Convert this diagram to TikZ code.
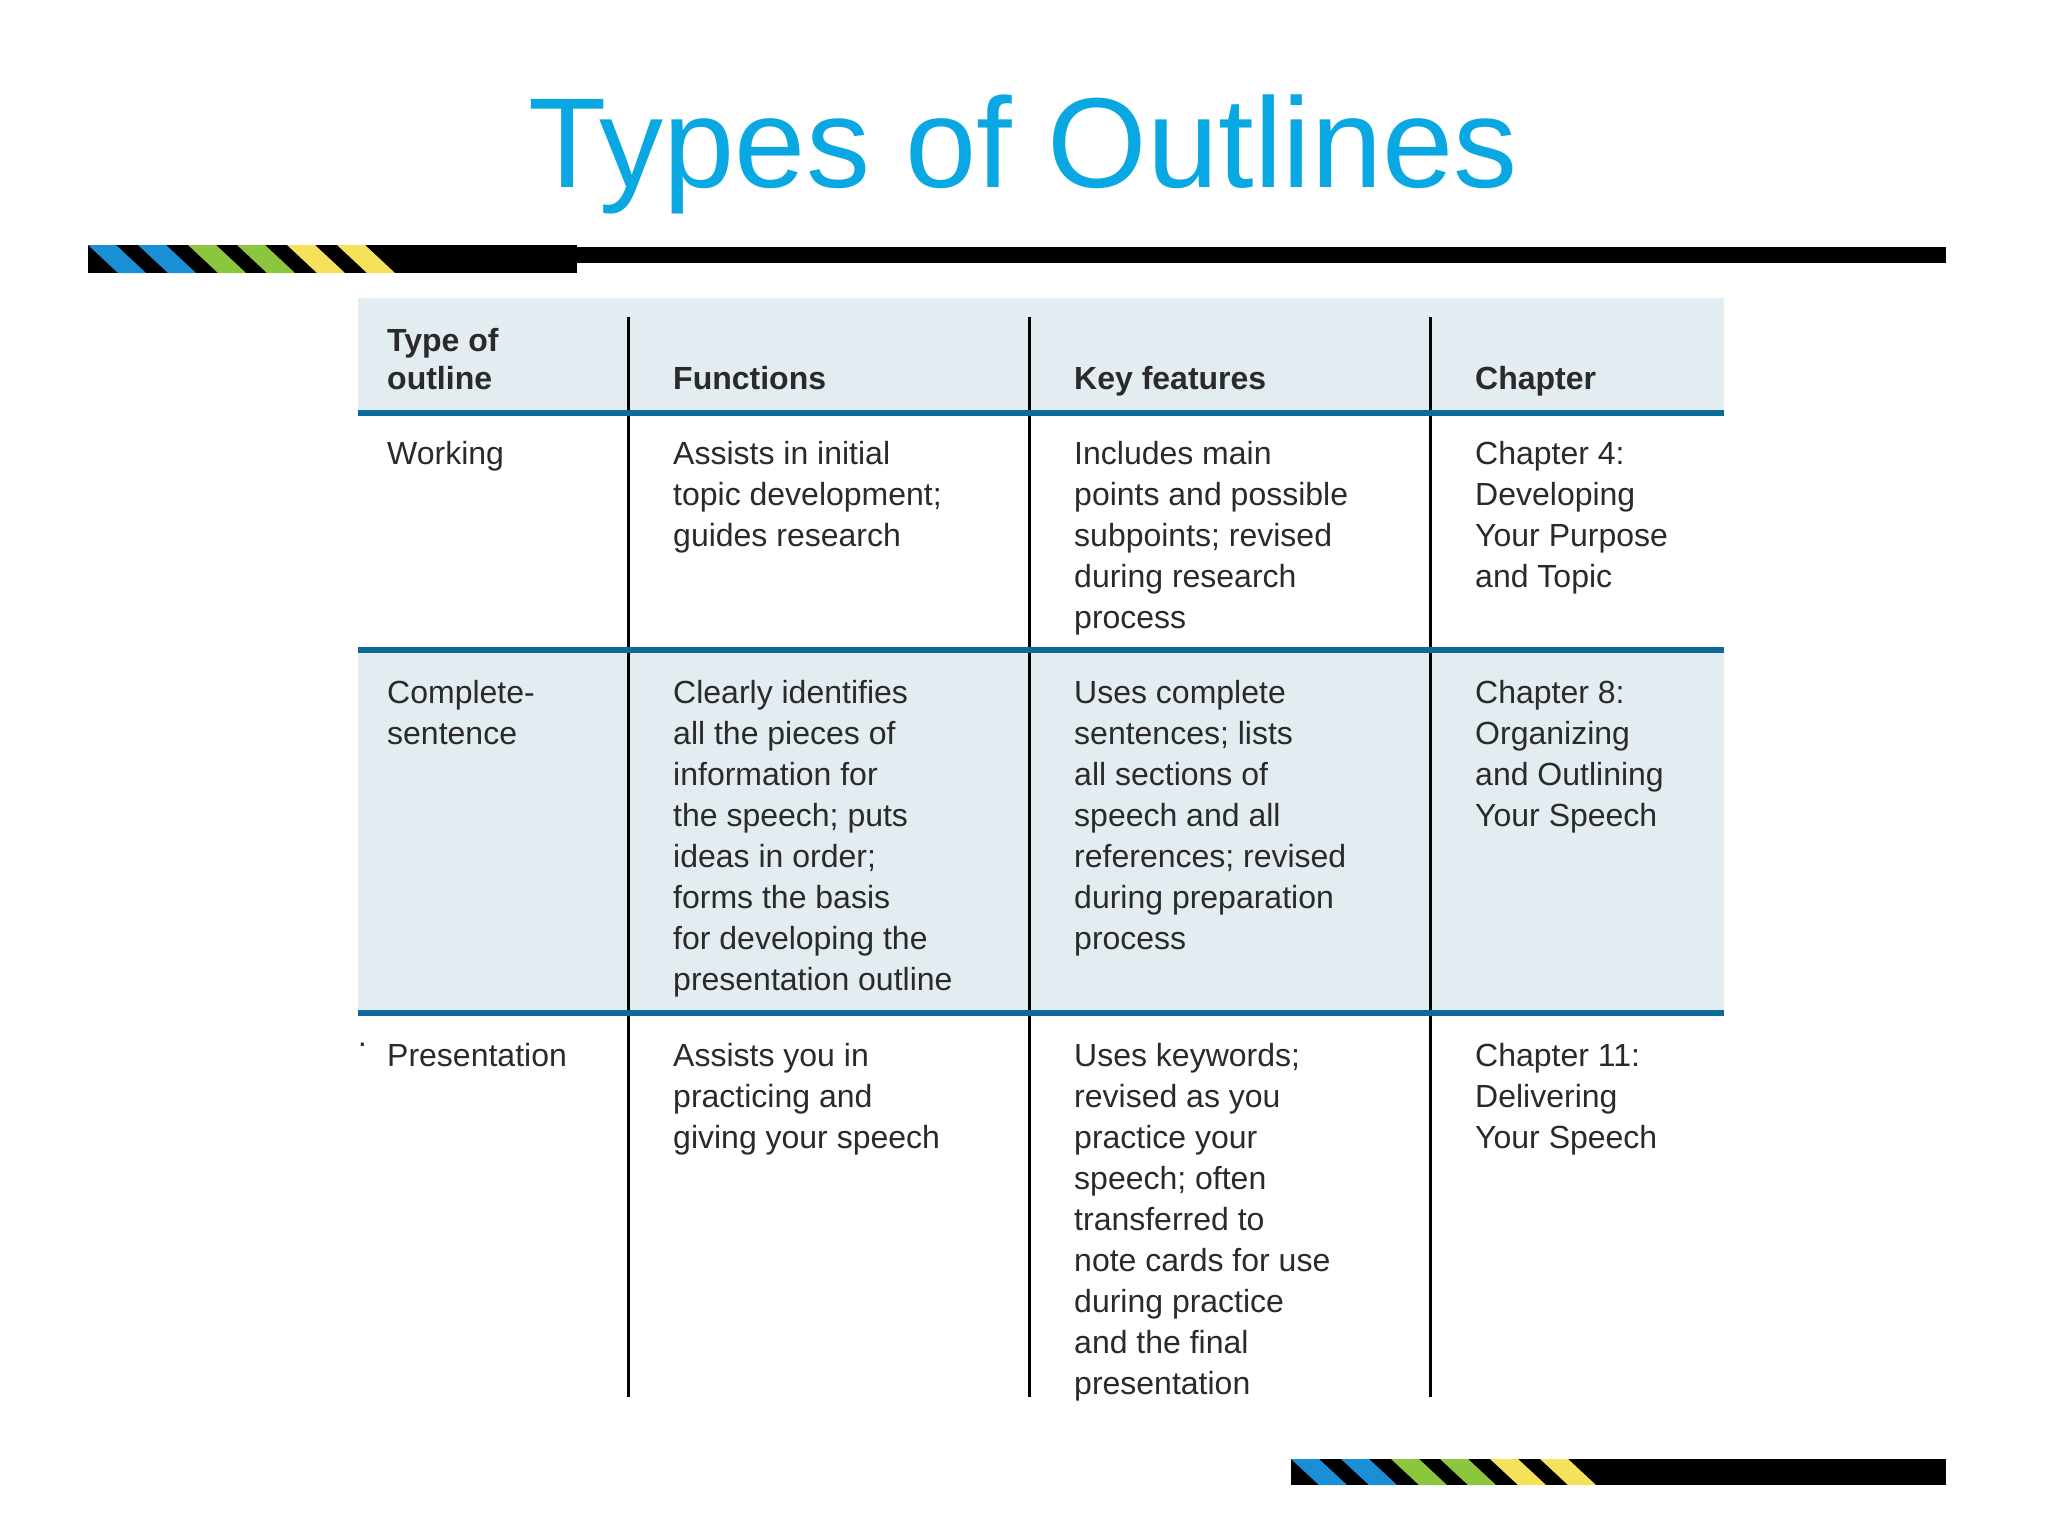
\documentclass[tikz,border=0pt]{standalone}
\usepackage{fontspec}
\setmainfont{Liberation Sans}
\definecolor{titlec}{HTML}{0AA8E2}
\definecolor{rule}{HTML}{0B6A98}
\definecolor{rowbg}{HTML}{E3ECF1}
\definecolor{sblue}{HTML}{1A8FD6}
\definecolor{sgreen}{HTML}{8CC63F}
\definecolor{syellow}{HTML}{F5E15A}
\definecolor{txt}{HTML}{2A2A2A}
\tikzset{cell/.style={anchor=north west,inner sep=0pt,align=left,text=txt,font=\fontsize{32}{41}\selectfont},
 hcell/.style={cell,font=\fontsize{32}{38}\selectfont\bfseries},
 vline/.style={line width=3pt,black},
 hrule/.style={line width=6pt,rule}}
\begin{document}
\begin{tikzpicture}[x=1pt,y=-1pt]
\useasboundingbox (0,0) rectangle (2048,1536);
\node[text=titlec,font=\fontsize{128}{130}\selectfont] (title) at (1023,154) {Types of Outlines};
% top stripe bar
\fill[black] (88,245) rectangle (577,273);
\fill[black] (577,247) rectangle (1946,263);
\foreach \x/\c in {88/sblue,138/sblue,188/sgreen,237/sgreen,287/syellow,337/syellow}
  \fill[\c] (\x,245) -- (\x+28,245) -- (\x+58,273) -- (\x+30,273) -- cycle;
% bottom stripe bar
\fill[black] (1291,1459) rectangle (1946,1485);
\foreach \x/\c in {1291/sblue,1341/sblue,1391/sgreen,1440/sgreen,1490/syellow,1540/syellow}
  \fill[\c] (\x,1459) -- (\x+28,1459) -- (\x+56,1485) -- (\x+28,1485) -- cycle;
% table backgrounds
\fill[rowbg] (358,298) rectangle (1724,413);
\fill[rowbg] (358,650) rectangle (1724,1013);
\coordinate (t1) at (628,317); \coordinate (b1) at (628,1397);
\coordinate (t2) at (1029,317); \coordinate (b2) at (1029,1397);
\coordinate (t3) at (1430,317); \coordinate (b3) at (1430,1397);
\draw[vline] (t1) -- (b1); \draw[vline] (t2) -- (b2); \draw[vline] (t3) -- (b3);
\coordinate (l1) at (358,413); \coordinate (r1) at (1724,413);
\coordinate (l2) at (358,650); \coordinate (r2) at (1724,650);
\coordinate (l3) at (358,1013); \coordinate (r3) at (1724,1013);
\draw[hrule] (l1) -- (r1); \draw[hrule] (l2) -- (r2); \draw[hrule] (l3) -- (r3);
% header
\node[hcell] (h1) at (387,328) {Type of\\outline};
\node[hcell] (h2) at (673,366) {Functions};
\node[hcell] (h3) at (1074,366) {Key features};
\node[hcell] (h4) at (1475,366) {Chapter};
% row 1
\node[cell] (a1) at (387,441) {Working};
\node[cell] (a2) at (673,441) {Assists in initial\\topic development;\\guides research};
\node[cell] (a3) at (1074,441) {Includes main\\points and possible\\subpoints; revised\\during research\\process};
\node[cell] (a4) at (1475,441) {Chapter 4:\\Developing\\Your Purpose\\and Topic};
% row 2
\node[cell] (b1n) at (387,680) {Complete-\\sentence};
\node[cell] (b2n) at (673,680) {Clearly identifies\\all the pieces of\\information for\\the speech; puts\\ideas in order;\\forms the basis\\for developing the\\presentation outline};
\node[cell] (b3n) at (1074,680) {Uses complete\\sentences; lists\\all sections of\\speech and all\\references; revised\\during preparation\\process};
\node[cell] (b4n) at (1475,680) {Chapter 8:\\Organizing\\and Outlining\\Your Speech};
% row 3
\node[cell] (dot) at (357,1043) {·};
\node[cell] (c1) at (387,1043) {Presentation};
\node[cell] (c2) at (673,1043) {Assists you in\\practicing and\\giving your speech};
\node[cell] (c3) at (1074,1043) {Uses keywords;\\revised as you\\practice your\\speech; often\\transferred to\\note cards for use\\during practice\\and the final\\presentation};
\node[cell] (c4) at (1475,1043) {Chapter 11:\\Delivering\\Your Speech};
\end{tikzpicture}
\end{document}
